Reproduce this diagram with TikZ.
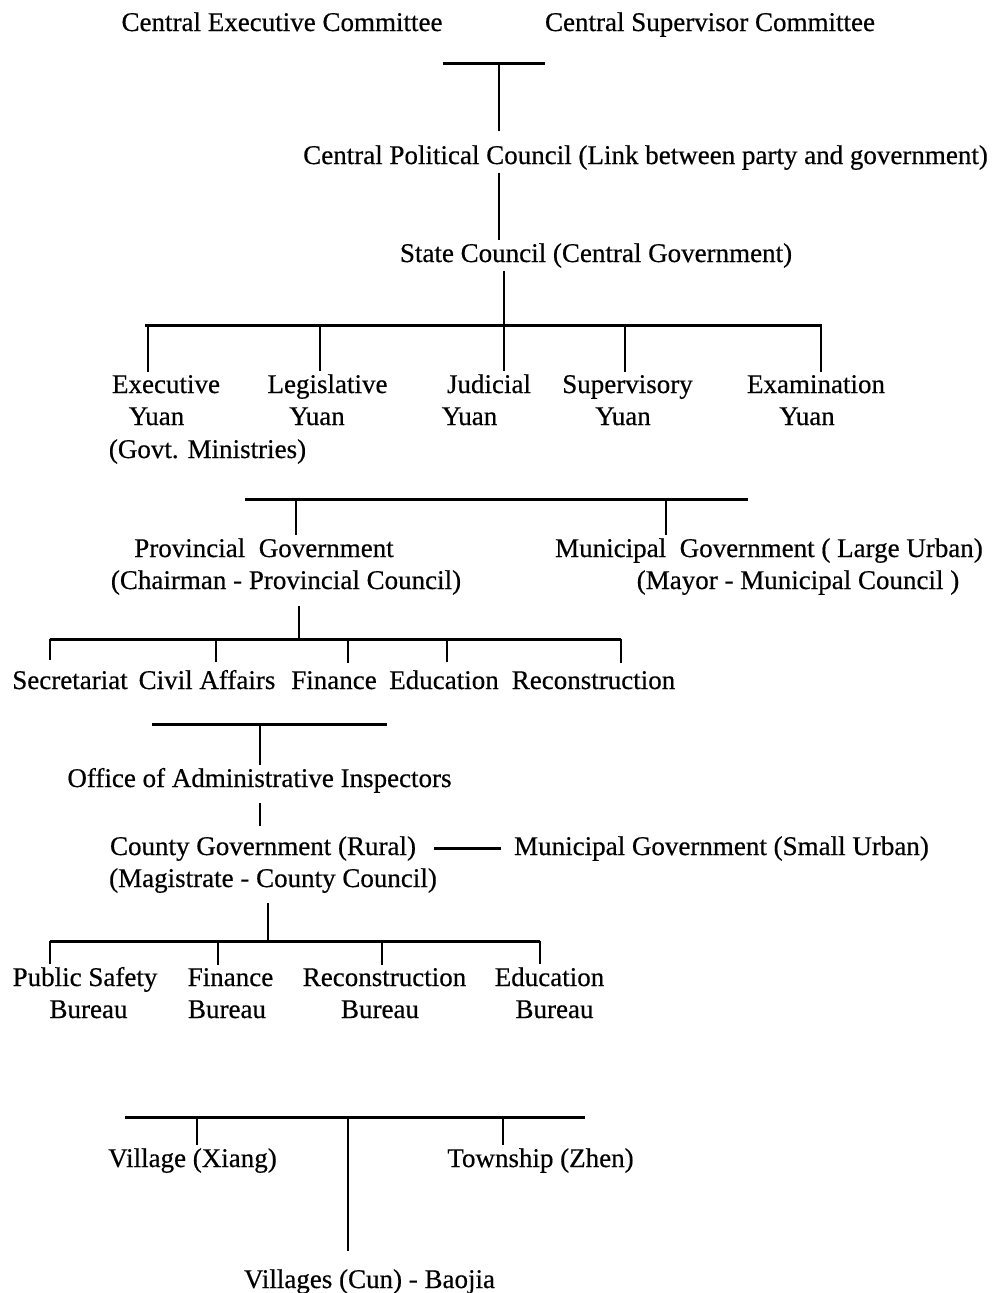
\documentclass[tikz,border=0pt]{standalone}
\usepackage{fontspec}
\setmainfont[FakeBold=0.5]{Liberation Serif}
\begin{document}
\begin{tikzpicture}[x=1pt,y=-1pt,
  lbl/.style={anchor=base,inner sep=3pt,font=\fontsize{27}{32}\selectfont},
  vline/.style={line width=2.6pt},
  hline/.style={line width=3pt}]
\useasboundingbox (0,0) rectangle (992,1293);
% ---------- labels ----------
\node[lbl] (cec) at (282,31) {Central Executive Committee};
\node[lbl] (csc) at (710,31) {Central Supervisor Committee};
\node[lbl] (cpc) at (645.5,164) {Central Political Council (Link between party and government)};
\node[lbl] (state) at (596,262) {State Council (Central Government)};
\node[lbl] (exec1) at (166,393) {Executive};
\node[lbl] (exec2) at (156.5,425) {Yuan};
\node[lbl] (exec3) at (207.5,458) {(Govt. Ministries)};
\node[lbl] (leg1) at (327.5,393) {Legislative};
\node[lbl] (leg2) at (317,425) {Yuan};
\node[lbl] (jud1) at (489,393) {Judicial};
\node[lbl] (jud2) at (469.5,425) {Yuan};
\node[lbl] (sup1) at (627.5,393) {Supervisory};
\node[lbl] (sup2) at (623,425) {Yuan};
\node[lbl] (exam1) at (816,393) {Examination};
\node[lbl] (exam2) at (807,425) {Yuan};
\node[lbl] (prov1) at (264,557) {Provincial\ \ Government};
\node[lbl] (prov2) at (286,589) {(Chairman - Provincial Council)};
\node[lbl] (mun1) at (769,557) {Municipal\ \ Government ( Large Urban)};
\node[lbl] (mun2) at (798,589) {(Mayor - Municipal Council )};
\node[lbl] (sec) at (70,689) {Secretariat};
\node[lbl] (civ) at (207,689) {Civil Affairs};
\node[lbl] (fin) at (334,689) {Finance};
\node[lbl] (edu) at (444,689) {Education};
\node[lbl] (rec) at (593.5,689) {Reconstruction};
\node[lbl] (office) at (259.5,787) {Office of Administrative Inspectors};
\node[lbl] (county1) at (263,855) {County Government (Rural)};
\node[lbl] (county2) at (273,887) {(Magistrate - County Council)};
\node[lbl] (muns) at (721.5,855) {Municipal Government (Small Urban)};
\node[lbl] (ps1) at (85,986) {Public Safety};
\node[lbl] (ps2) at (88.5,1018) {Bureau};
\node[lbl] (fb1) at (230.5,986) {Finance};
\node[lbl] (fb2) at (227,1018) {Bureau};
\node[lbl] (rb1) at (384.5,986) {Reconstruction};
\node[lbl] (rb2) at (380,1018) {Bureau};
\node[lbl] (eb1) at (549.5,986) {Education};
\node[lbl] (eb2) at (554.5,1018) {Bureau};
\node[lbl] (vx) at (192.5,1167) {Village (Xiang)};
\node[lbl] (tz) at (540.5,1167) {Township (Zhen)};
\node[lbl] (cun) at (369.5,1288) {Villages (Cun) - Baojia};
% ---------- bar coordinates ----------
\coordinate (b1l) at (443,63);  \coordinate (b1r) at (545,63);  \coordinate (b1j) at (499,63);
\coordinate (b2l) at (145,325); \coordinate (b2r) at (822,325);
\coordinate (b2a) at (148,325); \coordinate (b2b) at (320,325); \coordinate (b2c) at (504,325);
\coordinate (b2d) at (625,325); \coordinate (b2e) at (821,325);
\coordinate (b3l) at (245,499); \coordinate (b3r) at (748,499);
\coordinate (b3a) at (296,499); \coordinate (b3b) at (666,499);
\coordinate (b4l) at (50,639);  \coordinate (b4r) at (621,639);
\coordinate (b4a) at (50,639);  \coordinate (b4b) at (216,639); \coordinate (b4c) at (348,639);
\coordinate (b4d) at (447,639); \coordinate (b4e) at (621,639); \coordinate (b4j) at (299,639);
\coordinate (b5l) at (152,724); \coordinate (b5r) at (387,724); \coordinate (b5j) at (260,724);
\coordinate (b6l) at (50,941);  \coordinate (b6r) at (540,941);
\coordinate (b6a) at (50,941);  \coordinate (b6b) at (218,941); \coordinate (b6c) at (382,941);
\coordinate (b6d) at (540,941); \coordinate (b6j) at (268,941);
\coordinate (b7l) at (125,1117); \coordinate (b7r) at (585,1117);
\coordinate (b7a) at (197,1117); \coordinate (b7b) at (348,1117); \coordinate (b7c) at (503,1117);
% ---------- connectors ----------
\draw[hline] (b1l) -- (b1r);
\draw[vline,shorten >=11pt] (b1j) -- (b1j |- cpc.north);
\draw[vline] (cpc.south -| b1j) -- (state.north -| b1j);
\draw[hline] (b2l) -- (b2r);
\draw[vline] (state.south -| b2c) -- (b2c |- jud1.north);
\draw[vline] (b2a) -- (b2a |- exec1.north);
\draw[vline] (b2b) -- (b2b |- leg1.north);
\draw[vline] (b2d) -- (b2d |- sup1.north);
\draw[vline] (b2e) -- (b2e |- exam1.north);
\draw[hline] (b3l) -- (b3r);
\draw[vline] (b3a) -- (b3a |- prov1.north);
\draw[vline] (b3b) -- (b3b |- mun1.north);
\draw[hline] (b4l) -- (b4r);
\draw[vline,shorten <=8pt] (prov2.south -| b4j) -- (b4j);
\draw[vline,shorten >=8pt] (b4a) -- (b4a |- sec.north);
\draw[vline,shorten >=5pt] (b4b) -- (b4b |- civ.north);
\draw[vline,shorten >=5pt] (b4c) -- (b4c |- fin.north);
\draw[vline,shorten >=5pt] (b4d) -- (b4d |- edu.north);
\draw[vline,shorten >=5pt] (b4e) -- (b4e |- rec.north);
\draw[hline] (b5l) -- (b5r);
\draw[vline] (b5j) -- (b5j |- office.north);
\draw[vline,shorten <=7pt,shorten >=7pt] (office.south -| b5j) -- (county1.north -| b5j);
\draw[line width=3.6pt,shorten <=15pt,shorten >=10pt] (county1.east) -- (county1.east -| muns.west);
\draw[hline] (b6l) -- (b6r);
\draw[vline,shorten <=7pt] (county2.south -| b6j) -- (b6j);
\draw[vline] (b6a) -- (b6a |- ps1.north);
\draw[vline] (b6b) -- (b6b |- fb1.north);
\draw[vline] (b6c) -- (b6c |- rb1.north);
\draw[vline] (b6d) -- (b6d |- eb1.north);
\draw[hline] (b7l) -- (b7r);
\draw[vline] (b7a) -- (b7a |- vx.north);
\draw[vline] (b7c) -- (b7c |- tz.north);
\draw[vline,shorten >=15pt] (b7b) -- (b7b |- cun.north);
\end{tikzpicture}
\end{document}
